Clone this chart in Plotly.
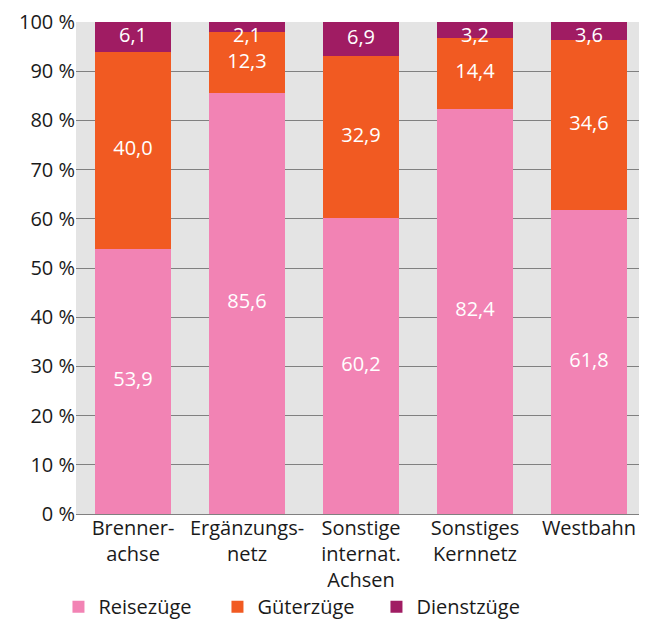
import plotly.graph_objects as go

categories = ["Brenner-<br>achse", "Ergänzungs-<br>netz", "Sonstige<br>internat.<br>Achsen", "Sonstiges<br>Kernnetz", "Westbahn"]
reise = [53.9, 85.6, 60.2, 82.4, 61.8]
gueter = [40.0, 12.3, 32.9, 14.4, 34.6]
dienst = [6.1, 2.1, 6.9, 3.2, 3.6]
series = [("Reisezüge", reise, "#f283b4"), ("Güterzüge", gueter, "#f15a22"), ("Dienstzüge", dienst, "#a01c63")]
ticks = [0, 10, 20, 30, 40, 50, 60, 70, 80, 90, 100]
tick_labels = [f"{t} %" for t in ticks]

FONT = "Open Sans"
fig = go.Figure()
base = [0.0] * len(categories)
label_x, label_y, label_t = [], [], []
for name, vals, col in series:
    fig.add_trace(go.Bar(x=categories, y=vals, name=name, marker=dict(color=col, line=dict(width=0)),
                         width=0.67, hoverinfo="skip"))
    for i, v in enumerate(vals):
        mid = base[i] + v / 2
        label_x.append(categories[i])
        label_y.append(min(mid, 97.0))
        label_t.append(f"{v:.1f}".replace(".", ","))
        base[i] += v

fig.add_trace(go.Scatter(x=label_x, y=label_y, text=label_t, mode="text", showlegend=False,
                         textfont=dict(family=FONT, size=20, color="white"), hoverinfo="skip"))

# page body adds an 8px offset; margins compensate so the plot lands at the reference position
fig.update_layout(
    barmode="stack",
    width=647, height=621,
    margin=dict(l=68, r=9, t=14, b=115, autoexpand=False),
    paper_bgcolor="white",
    plot_bgcolor="#e4e4e4",
    font=dict(family=FONT, size=20, color="#1a1a1a"),
    bargap=0.33,
    legend=dict(orientation="h", xref="container", yref="container", x=0.078, y=0.036,
                xanchor="left", yanchor="middle", entrywidth=114, entrywidthmode="pixels",
                font=dict(family=FONT, size=20), tracegroupgap=0, traceorder="normal"),
    showlegend=True,
)
fig.update_yaxes(range=[0, 100], tickvals=ticks, ticktext=tick_labels, showgrid=True, gridcolor="#808080",
                 gridwidth=1, zeroline=True, zerolinecolor="#808080", zerolinewidth=1, ticks="", ticklen=0,
                 showline=False, automargin=False, tickfont=dict(family=FONT, size=20))
fig.update_xaxes(showgrid=False, ticks="", showline=False, automargin=False,
                 tickfont=dict(family=FONT, size=20))
fig.write_html("out.html")
